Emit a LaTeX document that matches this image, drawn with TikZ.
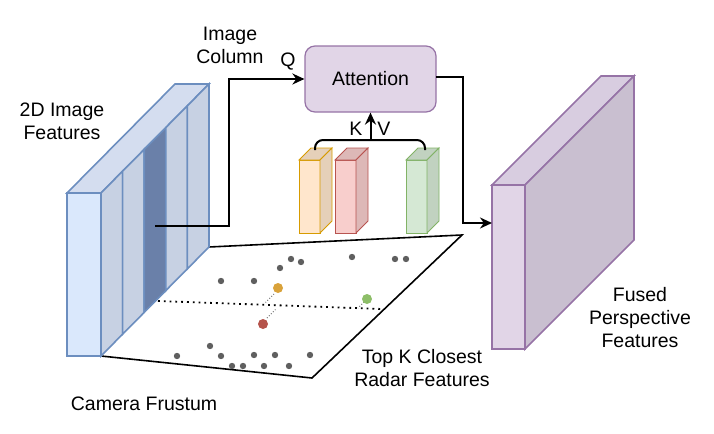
\documentclass[tikz,border=0pt]{standalone}
\usepackage{fontspec}
\setmainfont{Liberation Sans}
\usepackage{xcolor}
\usetikzlibrary{arrows.meta}

\definecolor{imgfront}{HTML}{DAE8FC}
\definecolor{imgtop}{HTML}{D4DDEF}
\definecolor{imgside}{HTML}{C7D1E3}
\definecolor{imgcol}{HTML}{6A80A9}
\definecolor{imgline}{HTML}{6C8EBF}
\definecolor{fusfront}{HTML}{E1D5E7}
\definecolor{fustop}{HTML}{D8CDE0}
\definecolor{fusside}{HTML}{C9BFD0}
\definecolor{fusline}{HTML}{9673A6}
\definecolor{orfront}{HTML}{FFE6CC}
\definecolor{orside}{HTML}{E5D0B9}
\definecolor{orline}{HTML}{D79B00}
\definecolor{rdfront}{HTML}{F8CECC}
\definecolor{rdside}{HTML}{DDB8B7}
\definecolor{rdline}{HTML}{B85450}
\definecolor{grfront}{HTML}{D5E8D4}
\definecolor{grside}{HTML}{C1D2C0}
\definecolor{grline}{HTML}{82B366}
\definecolor{ptgray}{HTML}{5F5F5F}
\definecolor{ptorange}{HTML}{D9A23A}
\definecolor{ptgreen}{HTML}{8DBE68}
\definecolor{ptred}{HTML}{B5534B}

\tikzset{
  lbl/.style={font=\fontsize{9.75}{11.5}\selectfont, align=center, inner sep=0pt},
  flow/.style={line width=1pt, -{Stealth[length=6pt,width=5.5pt]}},
  pt/.style={fill=ptgray, draw=none},
}

\begin{document}
\begin{tikzpicture}[x=0.5pt,y=-0.5pt]
		\useasboundingbox (0,0) rectangle (714,434);
		%
		% camera frustum plane
		\draw[line width=0.8pt] (101,356) -- (312,378) -- (462,235) -- (209,247);
		\draw[line width=0.9pt, dotted] (158,301) -- (382,309);
		\draw[ptgray, line width=0.4pt, densely dotted] (274,294) -- (265,303);
		\draw[ptgray, line width=0.4pt, densely dotted] (267,318) -- (276,309);
		\draw[ptgray, line width=0.4pt, densely dotted] (364,302) -- (358,308);
		% radar points
		\foreach \x/\y in {291/259, 301/262, 352/257, 395/259, 406/259, 280/268,
		  221/281, 254/281, 210/346, 177/356, 221/356, 254/355, 275/355, 310/355,
		  232/366, 243/366, 264/366, 289/366}
		  \fill[pt] (\x,\y) circle (3.2);
		\fill[ptorange] (278,288) circle (5);
		\fill[ptgreen] (367,299) circle (5);
		\fill[ptred] (263,324) circle (5);
		%
		% 2D image features
		\draw[imgline, fill=imgfront, line width=0.8pt] (67,193) rectangle (101,356);
		\draw[imgline, fill=imgtop, line width=0.8pt] (67,193) -- (101,193) -- (209,84) -- (175,84) -- cycle;
		\foreach \i in {0,...,4}{
		  \pgfmathsetmacro{\xa}{101+21.6*\i}
		  \pgfmathsetmacro{\ya}{193-21.8*\i}
		  \pgfmathsetmacro{\xb}{101+21.6*(\i+1)}
		  \pgfmathsetmacro{\yb}{193-21.8*(\i+1)}
		  \ifnum\i=2 \def\stripe{imgcol}\else \def\stripe{imgside}\fi
		  \draw[imgline, fill=\stripe, line width=0.8pt] (\xa,\ya) -- (\xb,\yb) -- (\xb,\yb+163) -- (\xa,\ya+163) -- cycle;
		}
		%
		% fused perspective features
		\draw[fusline, fill=fusfront, line width=0.8pt] (492,185) rectangle (525,349);
		\draw[fusline, fill=fustop, line width=0.8pt] (492,185) -- (525,185) -- (634,76) -- (601,76) -- cycle;
		\draw[fusline, fill=fusside, line width=0.8pt] (525,185) -- (634,76) -- (634,240) -- (525,349) -- cycle;
		%
		% radar feature columns
		\foreach \x/\c in {299/or, 335/rd, 406/gr}{
		  \draw[\c line, fill=\c front, line width=0.4pt] (\x,160) rectangle (\x+21,233);
		  \draw[\c line, fill=\c side, line width=0.4pt] (\x,160) -- (\x+12,148) -- (\x+33,148) -- (\x+21,160) -- cycle;
		  \draw[\c line, fill=\c side, line width=0.4pt] (\x+21,160) -- (\x+33,148) -- (\x+33,221) -- (\x+21,233) -- cycle;
		}
		%
		\node[draw=fusline, fill=fusfront, rounded corners=5pt, line width=0.6pt,
		  minimum width=65.5pt, minimum height=33pt, lbl] (att) at (370.5,79) {Attention};
		\coordinate (col) at (155,226);
		\coordinate (qturn) at (229,226);
		\coordinate (attout) at (436,77);
		\coordinate (fusin) at (492,223);
		\coordinate (kvjoin) at (370.5,140);
		%
		% labels
		\node[lbl] (imgfeat) at (62,121) {2D Image\\Features};
		\node[lbl] (imgcolumn) at (230,45) {Image\\Column};
		\node[lbl] (q) at (288,62) {Q};
		\node[lbl] (k) at (356,129) {K};
		\node[lbl] (v) at (384,129) {V};
		\node[lbl] (frustum) at (144,404) {Camera Frustum};
		\node[lbl] (topk) at (422,368) {Top K Closest\\Radar Features};
		\node[lbl] (fused) at (640,318) {Fused\\Perspective\\Features};
		%
		% arrows
		\draw[flow] (col) -- (qturn) |- (att.west);
		\draw[flow] (attout) -| (463,223) -- (fusin);
		\draw[line width=1pt, rounded corners=4pt] (315,150) -- (315,140) -- (425,140) -- (425,150);
		\draw[flow] (kvjoin) -- (att.south);
	\end{tikzpicture}
\end{document}
